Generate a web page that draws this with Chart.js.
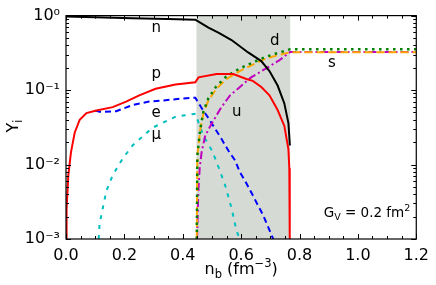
<!DOCTYPE html>
<html lang="en">
<head>
<meta charset="UTF-8">
<title>Particle fractions vs baryon density</title>
<script src="https://cdn.jsdelivr.net/npm/chart.js"></script>
<style>
    body { margin: 0; background: #fff; }
    canvas { display: block; }
</style>
</head>
<body>
<canvas id="chart" width="436" height="285"></canvas>
<script>
// particle fractions Y_i against n_b (fm^-3)
const nX = [0.0, 0.1, 0.227, 0.35, 0.443, 0.454, 0.488, 0.522, 0.567, 0.624, 0.669, 0.697, 0.725, 0.748, 0.762, 0.767];
const nY = [0.97, 0.95, 0.92, 0.90, 0.88, 0.83, 0.69, 0.59, 0.47, 0.32, 0.245, 0.18, 0.115, 0.066, 0.036, 0.018];

const pX = [0.001, 0.002, 0.008, 0.017, 0.03, 0.047, 0.07, 0.104, 0.16, 0.206, 0.251, 0.307, 0.375, 0.443, 0.454, 0.516, 0.573, 0.618, 0.64, 0.669, 0.697, 0.725, 0.748, 0.762, 0.765, 0.766, 0.767];
const pY = [0.001, 0.0026, 0.0072, 0.0146, 0.027, 0.040, 0.049, 0.053, 0.059, 0.07, 0.085, 0.104, 0.119, 0.127, 0.148, 0.164, 0.164, 0.141, 0.133, 0.11, 0.085, 0.054, 0.033, 0.016, 0.0089, 0.003, 0.001];

const eX = [0.1, 0.115, 0.172, 0.228, 0.285, 0.341, 0.398, 0.443, 0.465, 0.488, 0.533, 0.556, 0.579, 0.595, 0.618, 0.635, 0.675, 0.71];
const eY = [0.053, 0.051, 0.052, 0.063, 0.07, 0.073, 0.077, 0.079, 0.057, 0.042, 0.022, 0.0154, 0.0114, 0.008, 0.0056, 0.0042, 0.0021, 0.001];

const muX = [0.112, 0.115, 0.126, 0.138, 0.16, 0.194, 0.228, 0.295, 0.376, 0.409, 0.444, 0.46, 0.477, 0.5, 0.516, 0.545, 0.567, 0.584, 0.595];
const muY = [0.001, 0.0016, 0.0026, 0.0044, 0.0072, 0.012, 0.018, 0.031, 0.044, 0.046, 0.048, 0.031, 0.022, 0.0154, 0.0108, 0.0053, 0.0026, 0.0013, 0.001];

const uX = [0.449, 0.453, 0.458, 0.465, 0.477, 0.5, 0.53, 0.562, 0.59, 0.607, 0.634, 0.69, 0.73, 0.768, 1.2];
const uY = [0.001, 0.004, 0.009, 0.015, 0.0245, 0.036, 0.057, 0.085, 0.105, 0.12, 0.148, 0.2, 0.25, 0.325, 0.325];

const dX = [0.448, 0.45, 0.46, 0.471, 0.488, 0.515, 0.549, 0.595, 0.63, 0.68, 0.72, 0.768, 1.2];
const dY = [0.001, 0.0133, 0.03, 0.052, 0.078, 0.112, 0.152, 0.195, 0.225, 0.275, 0.31, 0.353, 0.353];

const sX = [0.448, 0.45, 0.46, 0.471, 0.488, 0.515, 0.549, 0.595, 0.63, 0.68, 0.72, 0.768, 1.2];
const sY = [0.001, 0.0133, 0.0295, 0.049, 0.073, 0.104, 0.14, 0.18, 0.21, 0.26, 0.29, 0.322, 0.322];

// mixed phase boundaries (shaded band)
const mixedPhase = [0.447, 0.768];

const yTicks = [1e-3, 1e-2, 1e-1, 1];
const yTickLabels = ['10⁻³', '10⁻²', '10⁻¹', '10⁰'];

const FONT = '"DejaVu Sans", sans-serif';

function pts(xs, ys) {
    return xs.map((x, i) => ({ x: x, y: ys[i] }));
}

function series(label, xs, ys, color, dash, width) {
    return {
        label: label,
        data: pts(xs, ys),
        borderColor: color,
        backgroundColor: color,
        borderWidth: width || 2,
        borderDash: dash || [],
        pointRadius: 0,
        tension: 0,
        fill: false
    };
}

// text with sub/superscripts, parts = [{t, size, dy}]
function richText(ctx, parts, x, y, align) {
    let total = 0;
    parts.forEach(p => {
        ctx.font = p.size + 'px ' + FONT;
        p.w = ctx.measureText(p.t).width;
        total += p.w;
    });
    let cx = align === 'center' ? x - total / 2 : x;
    ctx.textAlign = 'left';
    ctx.textBaseline = 'alphabetic';
    parts.forEach(p => {
        ctx.font = p.size + 'px ' + FONT;
        ctx.fillText(p.t, cx, y + (p.dy || 0));
        cx += p.w;
    });
}

const decor = {
    id: 'decor',
    beforeDatasetsDraw(chart) {
        const { ctx, chartArea: a, scales: { x } } = chart;
        const x0 = x.getPixelForValue(mixedPhase[0]);
        const x1 = x.getPixelForValue(mixedPhase[1]);
        ctx.save();
        ctx.fillStyle = '#d5dad5';
        ctx.fillRect(x0, a.top, x1 - x0, a.bottom - a.top);
        ctx.restore();
    },
    afterDraw(chart) {
        const { ctx, chartArea: a, scales: { x, y } } = chart;
        ctx.save();
        ctx.strokeStyle = '#000';
        ctx.lineWidth = 1;
        ctx.beginPath();
        // x ticks, inward, bottom and top
        for (let i = 0; i <= 24; i++) {
            const px = Math.round(x.getPixelForValue(i * 0.05)) + 0.5;
            const len = i % 4 === 0 ? 5 : 3;
            ctx.moveTo(px, a.bottom); ctx.lineTo(px, a.bottom - len);
            ctx.moveTo(px, a.top); ctx.lineTo(px, a.top + len);
        }
        // log y ticks, left and right
        for (let d = -3; d <= 0; d++) {
            for (let m = 1; m <= 9; m++) {
                if (d === 0 && m > 1) break;
                const py = Math.round(y.getPixelForValue(m * Math.pow(10, d))) + 0.5;
                const len = m === 1 ? 5 : 3;
                ctx.moveTo(a.left, py); ctx.lineTo(a.left + len, py);
                ctx.moveTo(a.right, py); ctx.lineTo(a.right - len, py);
            }
        }
        ctx.stroke();
        ctx.lineWidth = 1.2;
        ctx.strokeRect(a.left, a.top, a.right - a.left, a.bottom - a.top);

        ctx.fillStyle = '#000';
        // curve names
        const names = [
            ['n', 0.309, 0.593], ['p', 0.309, 0.145], ['e', 0.309, 0.0434],
            ['μ', 0.309, 0.0217], ['d', 0.715, 0.404], ['s', 0.911, 0.202],
            ['u', 0.585, 0.0443]
        ];
        ctx.font = '15px ' + FONT;
        ctx.textAlign = 'center';
        ctx.textBaseline = 'alphabetic';
        names.forEach(n => ctx.fillText(n[0], x.getPixelForValue(n[1]), y.getPixelForValue(n[2])));

        richText(ctx, [
            { t: 'G', size: 13.5 }, { t: 'V', size: 9.5, dy: 3 },
            { t: ' = 0.2 fm', size: 13.5 }, { t: '2', size: 9.5, dy: -6 }
        ], x.getPixelForValue(0.883), y.getPixelForValue(0.00196), 'left');

        // axis titles
        richText(ctx, [
            { t: 'n', size: 16 }, { t: 'b', size: 11.5, dy: 3.5 },
            { t: ' (fm', size: 16 }, { t: '−3', size: 11.5, dy: -7 }, { t: ')', size: 16 }
        ], (a.left + a.right) / 2, 274, 'center');

        ctx.translate(18, 126);
        ctx.rotate(-Math.PI / 2);
        richText(ctx, [{ t: 'Y', size: 16 }, { t: 'i', size: 11.5, dy: 3.5 }], 0, 0, 'center');
        ctx.restore();
    }
};

new Chart(document.getElementById('chart'), {
    type: 'line',
    data: {
        datasets: [
            series('n', nX, nY, '#000000'),
            series('p', pX, pY, '#ff0000'),
            series('d', dX, dY, '#008000', [2.5, 4.5], 2.5),
            series('s', sX, sY, '#ffa500', [8, 4]),
            series('u', uX, uY, '#bf00bf', [8, 3, 2, 3]),
            series('e', eX, eY, '#0000ff', [6, 4]),
            series('μ', muX, muY, '#00bfbf', [4, 6])
        ]
    },
    options: {
        responsive: false,
        animation: false,
        devicePixelRatio: 1,
        layout: { padding: { top: 10, right: 17, left: 0, bottom: 0 } },
        plugins: { legend: { display: false }, tooltip: { enabled: false } },
        scales: {
            x: {
                type: 'linear',
                min: 0,
                max: 1.2,
                grid: { display: false, drawTicks: false },
                border: { display: false },
                ticks: {
                    stepSize: 0.2,
                    padding: 7,
                    color: '#000',
                    font: { family: FONT, size: 16 },
                    callback: v => v.toFixed(1)
                },
                afterFit: s => { s.height = 46; }
            },
            y: {
                type: 'logarithmic',
                min: 1e-3,
                max: 1,
                grid: { display: false, drawTicks: false },
                border: { display: false },
                afterBuildTicks: s => { s.ticks = yTicks.map(v => ({ value: v })); },
                ticks: {
                    padding: 6,
                    color: '#000',
                    font: { family: FONT, size: 16 },
                    callback: v => {
                        const i = yTicks.findIndex(t => Math.abs(t - v) / t < 1e-6);
                        return i >= 0 ? yTickLabels[i] : '';
                    }
                },
                afterFit: s => { s.width = 66; }
            }
        }
    },
    plugins: [decor]
});
</script>
</body>
</html>
